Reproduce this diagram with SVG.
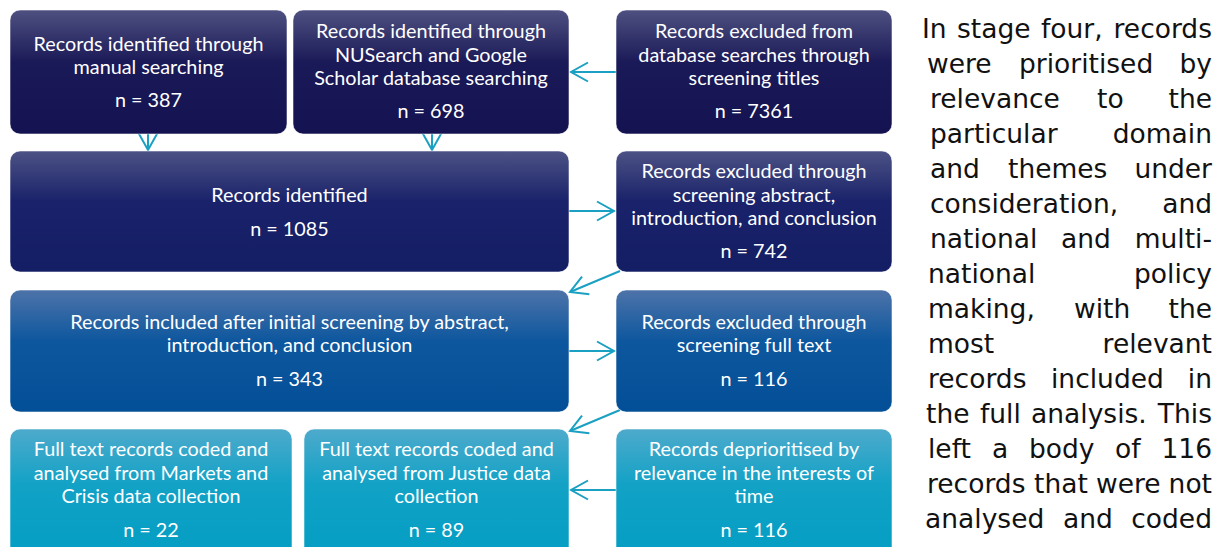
<svg xmlns="http://www.w3.org/2000/svg" width="1225" height="547" viewBox="0 0 1225 547">
<style>
.box{stroke:#ffffff;stroke-opacity:0.55;stroke-width:1}
.bt{font-family:Lato,"Liberation Sans",sans-serif;font-size:19.8px;fill:#ffffff;text-anchor:middle}
.con{fill:none;stroke:#1aa0c2;stroke-width:2;marker-end:url(#ah)}
.para{font-family:"DejaVu Sans",Verdana,sans-serif;font-size:26.5px;fill:#111111}
.e{text-anchor:end}
</style>
<defs>
<linearGradient id="g1" x1="0" y1="0" x2="0" y2="1">
<stop offset="0" stop-color="#4e5080"/><stop offset="0.42" stop-color="#1b1a58"/><stop offset="1" stop-color="#141250"/>
</linearGradient>
<linearGradient id="g2" x1="0" y1="0" x2="0" y2="1">
<stop offset="0" stop-color="#4c5284"/><stop offset="0.42" stop-color="#19226a"/><stop offset="1" stop-color="#141e64"/>
</linearGradient>
<linearGradient id="g3" x1="0" y1="0" x2="0" y2="1">
<stop offset="0" stop-color="#4d73a9"/><stop offset="0.42" stop-color="#0d579e"/><stop offset="1" stop-color="#034f97"/>
</linearGradient>
<linearGradient id="g4" x1="0" y1="0" x2="0" y2="1">
<stop offset="0" stop-color="#4eaacc"/><stop offset="0.42" stop-color="#12a2c6"/><stop offset="1" stop-color="#039dc3"/>
</linearGradient>
<marker id="ah" markerUnits="userSpaceOnUse" markerWidth="20" markerHeight="20" refX="18" refY="10" orient="auto" overflow="visible">
<path d="M1,0.5 L18,10 L1,19.5" fill="none" stroke="#1aa0c2" stroke-width="2"/>
</marker>
</defs>

<g id="connectors">
<path class="con" d="M148,134 L148,150"/>
<path class="con" d="M432,134 L432,150"/>
<path class="con" d="M616,72 L571,72"/>
<path class="con" d="M569,211 L614,211"/>
<path class="con" d="M620,271 L570,292"/>
<path class="con" d="M569,351 L614,351"/>
<path class="con" d="M620,410 L570,431"/>
<path class="con" d="M616,490 L571,490"/>
</g>

<g id="node-manual">
<rect class="box" x="10" y="10" width="277" height="124" rx="10" fill="url(#g1)"/>
<text class="bt" x="148.5" y="51">Records identified through</text>
<text class="bt" x="148.5" y="74">manual searching</text>
<text class="bt" x="148.5" y="107">n = 387</text>
</g>

<g id="node-nusearch">
<rect class="box" x="293" y="10" width="276" height="124" rx="10" fill="url(#g1)"/>
<text class="bt" x="431" y="38">Records identified through</text>
<text class="bt" x="431" y="62">NUSearch and Google</text>
<text class="bt" x="431" y="85">Scholar database searching</text>
<text class="bt" x="431" y="118">n = 698</text>
</g>

<g id="node-excluded-titles">
<rect class="box" x="616" y="10" width="276" height="124" rx="10" fill="url(#g1)"/>
<text class="bt" x="754" y="38">Records excluded from</text>
<text class="bt" x="754" y="62">database searches through</text>
<text class="bt" x="754" y="85">screening titles</text>
<text class="bt" x="754" y="118">n = 7361</text>
</g>

<g id="node-identified">
<rect class="box" x="10" y="151" width="559" height="121" rx="10" fill="url(#g2)"/>
<text class="bt" x="289.5" y="202">Records identified</text>
<text class="bt" x="289.5" y="236">n = 1085</text>
</g>

<g id="node-excluded-abstract">
<rect class="box" x="616" y="151" width="276" height="121" rx="10" fill="url(#g2)"/>
<text class="bt" x="754" y="178">Records excluded through</text>
<text class="bt" x="754" y="202">screening abstract,</text>
<text class="bt" x="754" y="225">introduction, and conclusion</text>
<text class="bt" x="754" y="258">n = 742</text>
</g>

<g id="node-included">
<rect class="box" x="10" y="290" width="559" height="122" rx="10" fill="url(#g3)"/>
<text class="bt" x="289.5" y="329">Records included after initial screening by abstract,</text>
<text class="bt" x="289.5" y="352">introduction, and conclusion</text>
<text class="bt" x="289.5" y="386">n = 343</text>
</g>

<g id="node-excluded-fulltext">
<rect class="box" x="616" y="290" width="276" height="122" rx="10" fill="url(#g3)"/>
<text class="bt" x="754" y="329">Records excluded through</text>
<text class="bt" x="754" y="352">screening full text</text>
<text class="bt" x="754" y="386">n = 116</text>
</g>

<g id="node-markets">
<rect class="box" x="10" y="429" width="282" height="132" rx="10" fill="url(#g4)"/>
<text class="bt" x="151" y="456">Full text records coded and</text>
<text class="bt" x="151" y="480">analysed from Markets and</text>
<text class="bt" x="151" y="503">Crisis data collection</text>
<text class="bt" x="151" y="537">n = 22</text>
</g>

<g id="node-justice">
<rect class="box" x="304" y="429" width="265" height="132" rx="10" fill="url(#g4)"/>
<text class="bt" x="436.5" y="456">Full text records coded and</text>
<text class="bt" x="436.5" y="480">analysed from Justice data</text>
<text class="bt" x="436.5" y="503">collection</text>
<text class="bt" x="436.5" y="537">n = 89</text>
</g>

<g id="node-deprioritised">
<rect class="box" x="616" y="429" width="276" height="132" rx="10" fill="url(#g4)"/>
<text class="bt" x="754" y="456">Records deprioritised by</text>
<text class="bt" x="754" y="480">relevance in the interests of</text>
<text class="bt" x="754" y="503">time</text>
<text class="bt" x="754" y="537">n = 116</text>
</g>

<g id="paragraph" class="para">
<text y="38"><tspan x="922">In</tspan><tspan x="957">stage</tspan><tspan x="1041">four,</tspan><tspan class="e" x="1212">records</tspan></text>
<text y="73"><tspan x="927">were</tspan><tspan x="1019">prioritised</tspan><tspan class="e" x="1212">by</tspan></text>
<text y="108"><tspan x="930">relevance</tspan><tspan x="1097">to</tspan><tspan class="e" x="1212">the</tspan></text>
<text y="143"><tspan x="930">particular</tspan><tspan class="e" x="1212">domain</tspan></text>
<text y="178"><tspan x="930">and</tspan><tspan x="1008">themes</tspan><tspan class="e" x="1212">under</tspan></text>
<text y="213"><tspan x="930">consideration,</tspan><tspan class="e" x="1212">and</tspan></text>
<text y="248"><tspan x="930">national</tspan><tspan x="1061">and</tspan><tspan class="e" x="1212">multi-</tspan></text>
<text y="283"><tspan x="928">national</tspan><tspan class="e" x="1212">policy</tspan></text>
<text y="318"><tspan x="928">making,</tspan><tspan x="1074">with</tspan><tspan class="e" x="1212">the</tspan></text>
<text y="353"><tspan x="928">most</tspan><tspan class="e" x="1212">relevant</tspan></text>
<text y="388"><tspan x="928">records</tspan><tspan x="1051">included</tspan><tspan class="e" x="1212">in</tspan></text>
<text y="423"><tspan x="926">the</tspan><tspan x="980">full</tspan><tspan x="1031">analysis.</tspan><tspan class="e" x="1212">This</tspan></text>
<text y="458"><tspan x="928">left</tspan><tspan x="992">a</tspan><tspan x="1029">body</tspan><tspan x="1115">of</tspan><tspan class="e" x="1212">116</tspan></text>
<text y="493"><tspan x="927">records</tspan><tspan x="1034">that</tspan><tspan x="1096">were</tspan><tspan class="e" x="1212">not</tspan></text>
<text y="528"><tspan x="925">analysed</tspan><tspan x="1063">and</tspan><tspan class="e" x="1212">coded</tspan></text>
</g>
</svg>
